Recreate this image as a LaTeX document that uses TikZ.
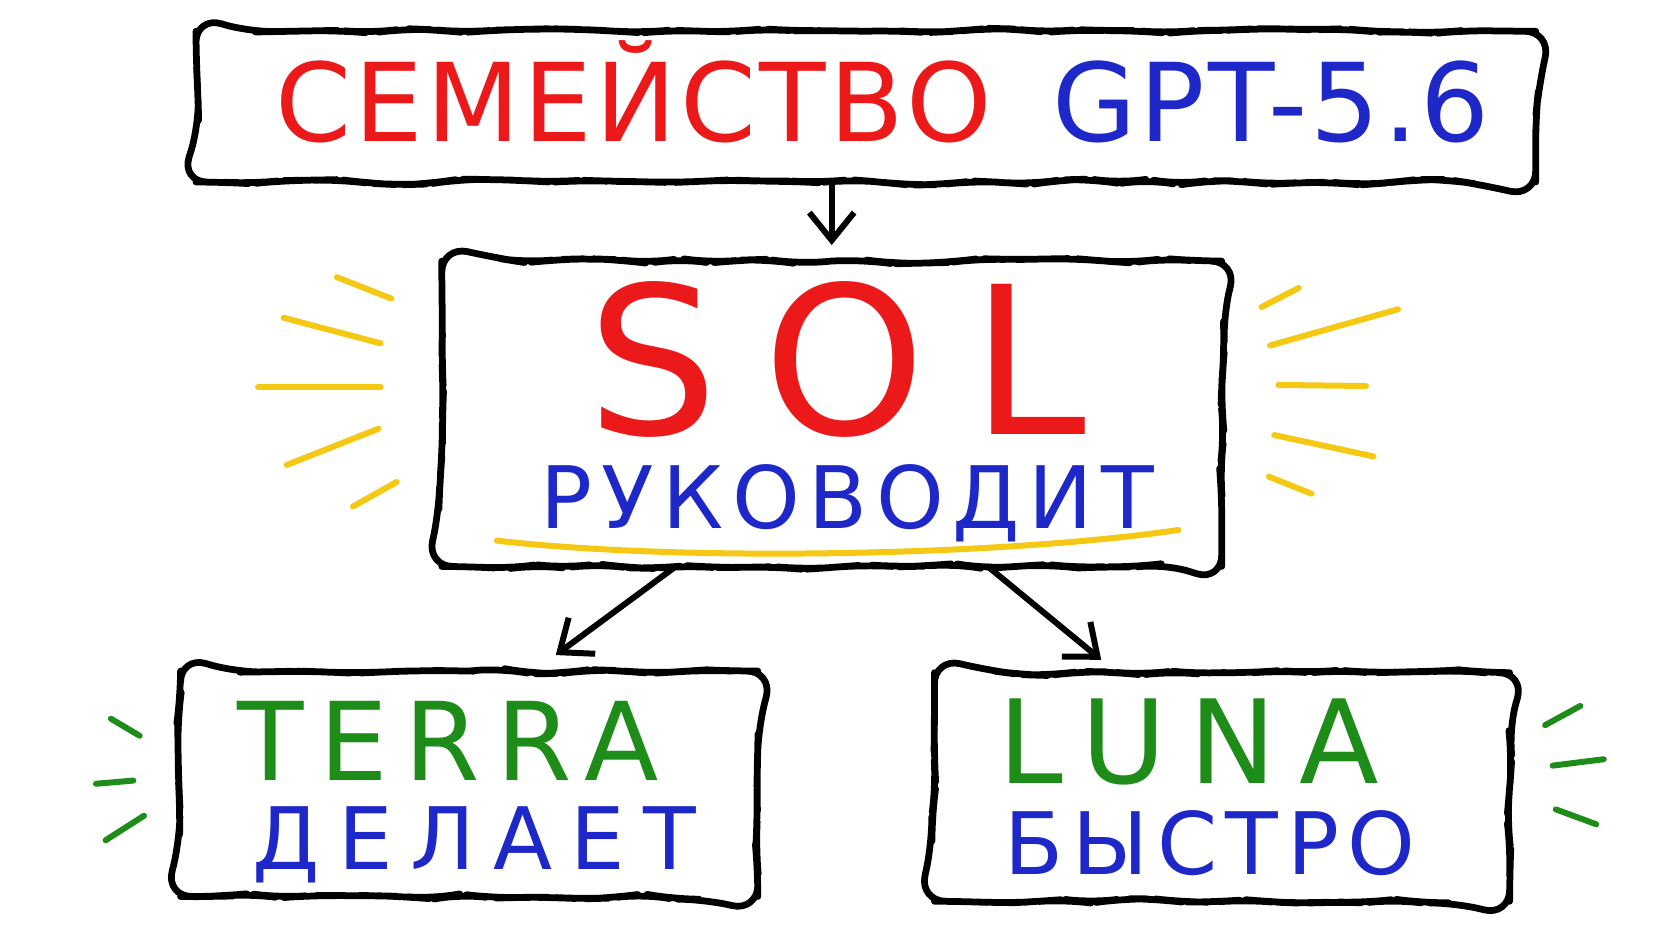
\documentclass[tikz,border=0pt]{standalone}
\usepackage{fontspec}
\setmainfont{DejaVu Sans}
\usetikzlibrary{arrows.meta,calc,decorations.pathmorphing}

\definecolor{inkred}{RGB}{235,25,25}
\definecolor{inkblue}{RGB}{30,40,200}
\definecolor{inkgreen}{RGB}{30,140,25}
\definecolor{inkyellow}{RGB}{245,200,20}

\newcommand{\spaced}[1]{\addfontfeature{LetterSpace=#1}}

\tikzset{
  box/.style={inner sep=0pt},
  wobble/.style={line width=1.8pt, line cap=round, line join=round, rounded corners=7pt,
    decorate, decoration={random steps, segment length=8pt, amplitude=0.8pt}},
  label/.style={anchor=base, inner sep=0pt},
  arr/.style={-{Straight Barb[length=2.6mm,width=4.2mm]}, line width=1.6pt, line cap=round},
  ray/.style={line width=1.6pt, line cap=round},
}

\begin{document}
\begin{tikzpicture}
    \pgfmathsetseed{7}
    \useasboundingbox (0,0) rectangle (15.68,-8.83);

    \begin{scope}[every node/.style={box}]
        \node (top) [minimum width=12.55cm, minimum height=1.40cm] at (8.12,-1.00) {};
        \node (sol) [minimum width=7.30cm, minimum height=2.85cm] at (7.80,-3.88) {};
        \node (terra) [minimum width=5.40cm, minimum height=2.10cm] at (4.40,-7.35) {};
        \node (luna) [minimum width=5.38cm, minimum height=2.13cm] at (11.46,-7.38) {};
    \end{scope}
    \foreach \b in {top,sol,terra,luna}
        \draw[wobble] (\b.north) -- (\b.north east) -- (\b.south east) -- (\b.south west)
            -- (\b.north west) -- (\b.north);

    % texts
    \node (family) [label] at (8.28,-1.33)
        {\fontsize{29}{34}\selectfont\spaced{3}\textcolor{inkred}{СЕМЕЙСТВО}\hspace{0.55em}\textcolor{inkblue}{GPT-5.6}};
    \node (solname) [label, text=inkred] at (7.85,-4.07)
        {\fontsize{55}{60}\selectfont\spaced{22}SOL};
    \node (solrole) [label, text=inkblue] at (7.95,-4.96)
        {\fontsize{23}{28}\selectfont\spaced{10}РУКОВОДИТ};
    \node (terraname) [label, text=inkgreen] at (4.20,-7.32)
        {\fontsize{29}{34}\selectfont\spaced{15}TERRA};
    \node (terrarole) [label, text=inkblue] at (4.45,-8.15)
        {\fontsize{23}{28}\selectfont\spaced{21}ДЕЛАЕТ};
    \node (lunaname) [label, text=inkgreen] at (11.15,-7.35)
        {\fontsize{31}{36}\selectfont\spaced{20}LUNA};
    \node (lunarole) [label, text=inkblue] at (11.35,-8.20)
        {\fontsize{23}{28}\selectfont\spaced{10}БЫСТРО};

    \begin{scope}[every path/.style={arr}]
        \path (sol.north |- top.south) edge ($(sol.north)+(0,0.15)$);
        \path ($(sol.south west)!0.30!(sol.south east)$) edge ($(terra.north west)!0.65!(terra.north east)+(0,0.15)$);
        \path ($(sol.south west)!0.70!(sol.south east)$) edge ($(luna.north west)!0.29!(luna.north east)+(0,0.12)$);
    \end{scope}

    % rays round SOL
    \begin{scope}[every path/.style={ray, draw=inkyellow}]
        \path (3.16,-2.60) -- (3.67,-2.80);
        \path (2.66,-2.98) -- (3.57,-3.22);
        \path (2.42,-3.63) -- (3.57,-3.63);
        \path (2.69,-4.36) -- (3.55,-4.02);
        \path (3.31,-4.75) -- (3.72,-4.52);
        \path (11.83,-2.88) -- (12.18,-2.70);
        \path (11.91,-3.24) -- (13.11,-2.90);
        \path (11.99,-3.61) -- (12.81,-3.62);
        \path (11.95,-4.08) -- (12.88,-4.28);
        \path (11.90,-4.47) -- (12.30,-4.63);
        \path (4.66,-5.07) .. controls (6.50,-5.28) and (9.50,-5.20) .. (11.05,-4.97);
    \end{scope}

    % rays round TERRA and LUNA
    \begin{scope}[every path/.style={ray, draw=inkgreen}]
        \path (1.04,-6.74) -- (1.31,-6.90);
        \path (0.90,-7.35) -- (1.25,-7.32);
        \path (0.99,-7.88) -- (1.35,-7.65);
        \path (14.49,-6.80) -- (14.82,-6.62);
        \path (14.56,-7.18) -- (15.04,-7.12);
        \path (14.59,-7.59) -- (14.97,-7.73);
    \end{scope}
\end{tikzpicture}
\end{document}
